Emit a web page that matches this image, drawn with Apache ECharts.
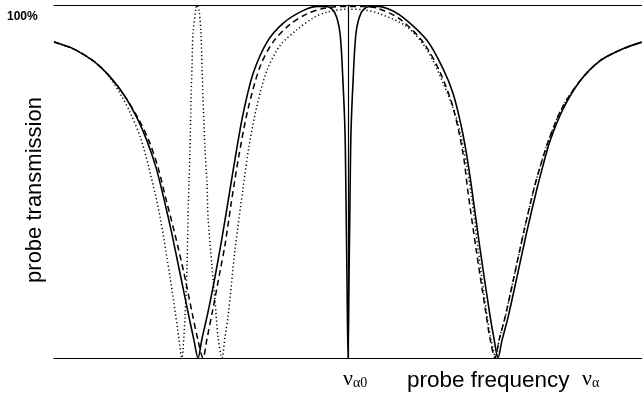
<!DOCTYPE html>
<html>
<head>
<meta charset="utf-8">
<title>probe transmission</title>
<script src="https://cdn.jsdelivr.net/npm/echarts@6/dist/echarts.min.js"></script>
<style>
  html, body { margin: 0; padding: 0; background: #fff; }
  #chart { width: 642px; height: 401px; }
</style>
</head>
<body>
<div id="chart"></div>
<script>
// detuning (arbitrary units, 0 = line centre) and transmission in %
const solidX = [-29.4, -27.4, -25.4, -23.9, -22.4, -21.1, -20.1, -19.2, -18.4, -17.6, -16.8, -16.0, -15.4, -15.0,
  -14.6, -14.0, -13.3, -12.6, -11.9, -11.2, -10.5, -9.5, -8.1, -6.5, -4.5, -3.0, -2.0, -1.3, -0.8, -0.5, -0.3, -0.2, -0.1, 0,
  0.1, 0.2, 0.3, 0.5, 0.8, 1.3, 2.0, 3.0, 4.5, 5.9, 7.9, 9.5, 10.5, 11.3, 11.9, 12.4, 13.2, 14.2, 14.6, 15.0,
  15.4, 16.0, 16.9, 17.9, 18.9, 19.5, 20.2, 21.5, 23.2, 25.2, 27.5, 29.4];
const solidY = [89.5, 87.5, 84.0, 80.0, 74.5, 68.0, 61.5, 54.0, 45.0, 35.0, 24.0, 13.0, 5.0, 0,
  5.5, 13.0, 23.0, 34.0, 46.0, 58.0, 69.0, 80.5, 89.5, 94.8, 98.4, 99.6, 99.5, 97.7, 92.0, 78.0, 64.0, 45.0, 22.0, 0,
  22.0, 45.0, 64.0, 78.0, 92.0, 97.7, 99.5, 99.6, 98.3, 95.6, 90.0, 82.0, 75.0, 66.0, 57.0, 47.5, 31.0, 12.0, 5.5, 0,
  5.0, 11.5, 23.0, 36.0, 48.0, 54.5, 61.5, 70.5, 78.5, 84.2, 87.6, 89.5];

const dashedX = [-29.4, -27.4, -25.4, -23.9, -22.4, -21.0, -19.9, -19.0, -18.2, -17.3, -16.4, -15.6, -15.0, -14.5,
  -14.1, -13.5, -12.8, -12.3, -11.7, -10.9, -10.0, -8.8, -7.5, -5.8, -4.1, -2.5, -1.2, 0,
  1.4, 2.9, 5.2, 7.5, 9.2, 10.5, 11.5, 12.0, 12.8, 13.8, 14.2, 14.7,
  15.1, 15.7, 16.6, 17.6, 18.6, 19.3, 20.1, 21.4, 23.2, 25.2, 27.5, 29.4];
const dashedY = [89.5, 87.5, 84.0, 80.0, 74.5, 68.0, 61.5, 54.0, 45.0, 35.0, 24.0, 13.0, 5.0, 0,
  5.5, 14.0, 24.5, 32.0, 43.5, 57.5, 70.5, 82.5, 89.5, 94.5, 97.5, 99.0, 99.5, 99.6,
  99.6, 99.1, 96.0, 89.5, 81.0, 71.0, 58.0, 47.0, 31.0, 12.5, 5.5, 0,
  5.0, 11.5, 23.0, 36.0, 48.0, 55.0, 62.0, 70.8, 78.5, 84.2, 87.6, 89.5];

const dottedX = [-29.4, -27.4, -25.4, -23.9, -22.6, -21.7, -20.7, -19.7, -18.8, -17.8, -17.0, -16.6,
  -16.5, -16.3, -16.1, -16.0, -15.9, -15.8, -15.7, -15.6, -15.5, -15.2, -15.1,
  -14.9, -14.7, -14.6, -14.3, -14.1, -14.0, -13.6, -13.3, -13.0, -12.6,
  -12.3, -12.0, -11.3, -10.5, -9.9, -9.1, -8.1, -6.8, -5.1, -3.5, -2.1, 0,
  1.7, 3.2, 5.9, 7.9, 9.5, 10.9, 11.9, 12.4, 13.0, 13.9, 14.3, 14.8,
  15.1, 15.7, 16.6, 17.6, 18.6, 19.3, 20.1, 21.4, 23.2, 25.2, 27.5, 29.4];
const dottedY = [89.5, 87.5, 84.0, 79.8, 74.0, 69.0, 62.0, 51.5, 40.0, 23.0, 7.5, 0,
  2.3, 11.6, 25.8, 40.0, 49.6, 58.9, 73.1, 82.4, 92.0, 99.1, 100,
  98.6, 92.0, 82.4, 58.9, 49.6, 40.0, 25.8, 16.4, 6.0, 0,
  6.0, 11.6, 30.6, 48.0, 60.0, 71.5, 81.5, 88.5, 93.0, 96.3, 98.0, 98.8,
  98.6, 97.5, 93.8, 87.3, 78.0, 67.4, 54.0, 45.0, 31.0, 12.0, 5.2, 0,
  5.0, 11.5, 23.0, 36.0, 48.0, 55.0, 62.0, 70.8, 78.5, 84.2, 87.6, 89.5];

const xMin = -29.4;
const xMax = 29.4;

function pairs(xs, ys) {
  return xs.map((x, i) => [x, ys[i]]);
}

const chart = echarts.init(document.getElementById('chart'), null, { renderer: 'canvas' });

const lineBase = {
  type: 'line',
  showSymbol: false,
  smooth: 0.3,
  silent: true,
  clip: true,
  z: 3
};

const plainAxis = {
  type: 'value', min: xMin, max: xMax,
  axisLine: { show: true, lineStyle: { color: '#000', width: 1.2 } },
  axisTick: { show: false }, axisLabel: { show: false }, splitLine: { show: false }
};

const option = {
  animation: false,
  backgroundColor: '#fff',
  grid: { left: 54, top: 5, right: 0, bottom: 43 },
  xAxis: [
    Object.assign({}, plainAxis),
    Object.assign({}, plainAxis, { position: 'top' })
  ],
  yAxis: Object.assign({}, plainAxis, { min: 0, max: 100 }),
  series: [
    Object.assign({}, lineBase, {
      name: 'dotted', data: pairs(dottedX, dottedY),
      lineStyle: { color: '#000', width: 1.5, type: [1.2, 2.6] }
    }),
    Object.assign({}, lineBase, {
      name: 'dashed', data: pairs(dashedX, dashedY),
      lineStyle: { color: '#000', width: 1.5, type: [6, 4] }
    }),
    Object.assign({}, lineBase, {
      name: 'solid', data: pairs(solidX, solidY),
      lineStyle: { color: '#000', width: 1.6 }
    })
  ],
  graphic: [
    {
      type: 'text', left: 7, top: 11,
      style: { text: '100%', font: 'bold 12px "Liberation Sans", Arial, sans-serif', fill: '#000' }
    },
    {
      type: 'text', x: 35, y: 190, rotation: Math.PI / 2,
      style: {
        text: 'probe transmission', font: '22px "Liberation Sans", Arial, sans-serif',
        fill: '#000', align: 'center', verticalAlign: 'middle'
      }
    },
    {
      type: 'text', x: 343, y: 368,
      style: {
        text: '{n|ν}{s|α0}',
        rich: {
          n: { font: '22px "Liberation Serif", "Times New Roman", serif', fill: '#000' },
          s: { font: '14px "Liberation Serif", "Times New Roman", serif', fill: '#000', padding: [8, 0, 0, 0] }
        }
      }
    },
    {
      type: 'text', x: 407, y: 369,
      style: { text: 'probe frequency', font: '22.5px "Liberation Sans", Arial, sans-serif', fill: '#000' }
    },
    {
      type: 'text', x: 582, y: 368,
      style: {
        text: '{n|ν}{s|α}',
        rich: {
          n: { font: '22px "Liberation Serif", "Times New Roman", serif', fill: '#000' },
          s: { font: '14px "Liberation Serif", "Times New Roman", serif', fill: '#000', padding: [8, 0, 0, 0] }
        }
      }
    }
  ]
};

chart.setOption(option);
</script>
</body>
</html>
